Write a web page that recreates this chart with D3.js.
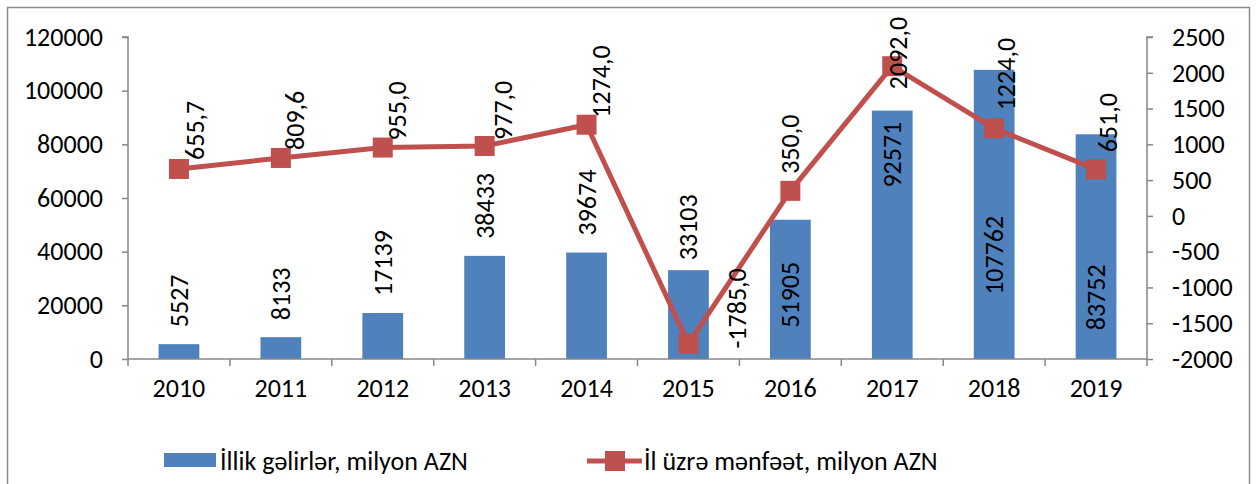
<!DOCTYPE html>
<html>
<head>
<meta charset="utf-8">
<script src="https://cdn.jsdelivr.net/npm/d3@7"></script>
<style>
html,body{margin:0;padding:0;background:#fff;}
svg text{font-family:Carlito, Calibri, Lato, sans-serif;fill:#000;}
</style>
</head>
<body>
<svg id="chart" width="1256" height="484"></svg>
<script>
const years = ["2010","2011","2012","2013","2014","2015","2016","2017","2018","2019"];
const revenue = [5527, 8133, 17139, 38433, 39674, 33103, 51905, 92571, 107762, 83752];
const profit = [655.7, 809.6, 955.0, 977.0, 1274.0, -1785.0, 350.0, 2092.0, 1224.0, 651.0];
const leftTicks = [0, 20000, 40000, 60000, 80000, 100000, 120000];
const rightTicks = [-2000, -1500, -1000, -500, 0, 500, 1000, 1500, 2000, 2500];
const seriesNames = ["İllik gəlirlər, milyon AZN", "İl üzrə mənfəət, milyon AZN"];

// label placement tweaks (style, not data)
const barLabelShift = [-17,-17,-17,-17,-17,-10,108,77,225,196];
const lineLabelNudge = [[16,-9],[14,-8],[14,-7],[18,-6],[14,-7],[49,5],[0,-17],[6,23],[12,-18],[12,-17]];

const BLUE = "#4F81BD", RED = "#C0504D", AX = "#868686";
const FS = 26;
const svg = d3.select("#chart");
const L = 128, R = 1147, T = 37, B = 359;

svg.append("rect").attr("x",7.5).attr("y",7.5).attr("width",1242).attr("height",490)
  .attr("fill","none").attr("stroke","#8c8c8c").attr("stroke-width",1.5);

const x = d3.scaleBand().domain(years).range([L,R]).paddingInner(0.6).paddingOuter(0.3);
const xb = d3.scaleBand().domain(years).range([L,R]);
const yL = d3.scaleLinear().domain([0,120000]).range([B,T]);
const yR = d3.scaleLinear().domain([-2000,2500]).range([B,T]);

// bars
svg.append("g").selectAll("rect").data(revenue).join("rect")
  .attr("x",(d,i)=>x(years[i])).attr("width",x.bandwidth())
  .attr("y",d=>yL(d)).attr("height",d=>B-yL(d)).attr("fill",BLUE);

// left axis
const gl = svg.append("g").attr("transform",`translate(${L},0)`)
  .call(d3.axisLeft(yL).tickValues(leftTicks).tickSize(6).tickPadding(19).tickFormat(d3.format("d")));
// right axis
const gr = svg.append("g").attr("transform",`translate(${R},0)`)
  .call(d3.axisRight(yR).tickValues(rightTicks).tickSize(6).tickPadding(19).tickFormat(d=>d<0?"-"+Math.abs(d):d));
// bottom axis
const gb = svg.append("g").attr("transform",`translate(0,${B})`)
  .call(d3.axisBottom(xb).tickSize(0).tickPadding(20));
const bt = svg.append("g");
bt.selectAll("line").data(d3.range(years.length+1)).join("line")
  .attr("x1",i=>L+i*xb.step()).attr("x2",i=>L+i*xb.step())
  .attr("y1",B).attr("y2",B+7).attr("stroke",AX).attr("stroke-width",1.5);

[gl,gr,gb].forEach(g=>{
  g.select(".domain").attr("stroke",AX).attr("stroke-width",1.5);
  g.selectAll(".tick line").attr("stroke",AX).attr("stroke-width",1.5);
  g.selectAll("text").attr("font-size",FS).attr("font-family","Carlito, Calibri, Lato, sans-serif").attr("fill","#000");
});
gb.select(".domain").attr("d",`M${L},0H${R}`);
gl.select(".domain").attr("d",`M-6,${T}H0V${B}`);
gr.select(".domain").attr("d",`M6,${T}H0V${B}`);

// bar labels
svg.append("g").selectAll("text").data(revenue).join("text")
  .attr("transform",(d,i)=>`translate(${x(years[i])+x.bandwidth()/2},${yL(d)+barLabelShift[i]}) rotate(-90)`)
  .attr("text-anchor","start").attr("dominant-baseline","central")
  .attr("font-size",FS).text(d=>d);

// line
const cx = i => xb(years[i]) + xb.bandwidth()/2;
const line = d3.line().x((d,i)=>cx(i)).y(d=>yR(d));
svg.append("path").datum(profit).attr("d",line).attr("fill","none")
  .attr("stroke",RED).attr("stroke-width",5).attr("stroke-linejoin","round");
svg.append("g").selectAll("rect").data(profit).join("rect")
  .attr("x",(d,i)=>cx(i)-10).attr("y",d=>yR(d)-10).attr("width",20).attr("height",20)
  .attr("fill",RED);

const fmt = d => d3.format(".1f")(d).replace(".",",").replace("−","-");
svg.append("g").selectAll("text").data(profit).join("text")
  .attr("transform",(d,i)=>`translate(${cx(i)+lineLabelNudge[i][0]},${yR(d)+lineLabelNudge[i][1]}) rotate(-90)`)
  .attr("text-anchor","start").attr("dominant-baseline","central")
  .attr("font-size",FS).text(d=>fmt(d));

// legend
const lg = svg.append("g");
lg.append("rect").attr("x",164).attr("y",453).attr("width",52).attr("height",14).attr("fill",BLUE);
lg.append("text").attr("x",220).attr("y",461).attr("dominant-baseline","central").attr("font-size",FS).text(seriesNames[0]);
lg.append("line").attr("x1",587).attr("x2",642).attr("y1",461).attr("y2",461).attr("stroke",RED).attr("stroke-width",5);
lg.append("rect").attr("x",605).attr("y",451).attr("width",20).attr("height",20).attr("fill",RED);
lg.append("text").attr("x",644).attr("y",461).attr("dominant-baseline","central").attr("font-size",FS).text(seriesNames[1]);
</script>
</body>
</html>
